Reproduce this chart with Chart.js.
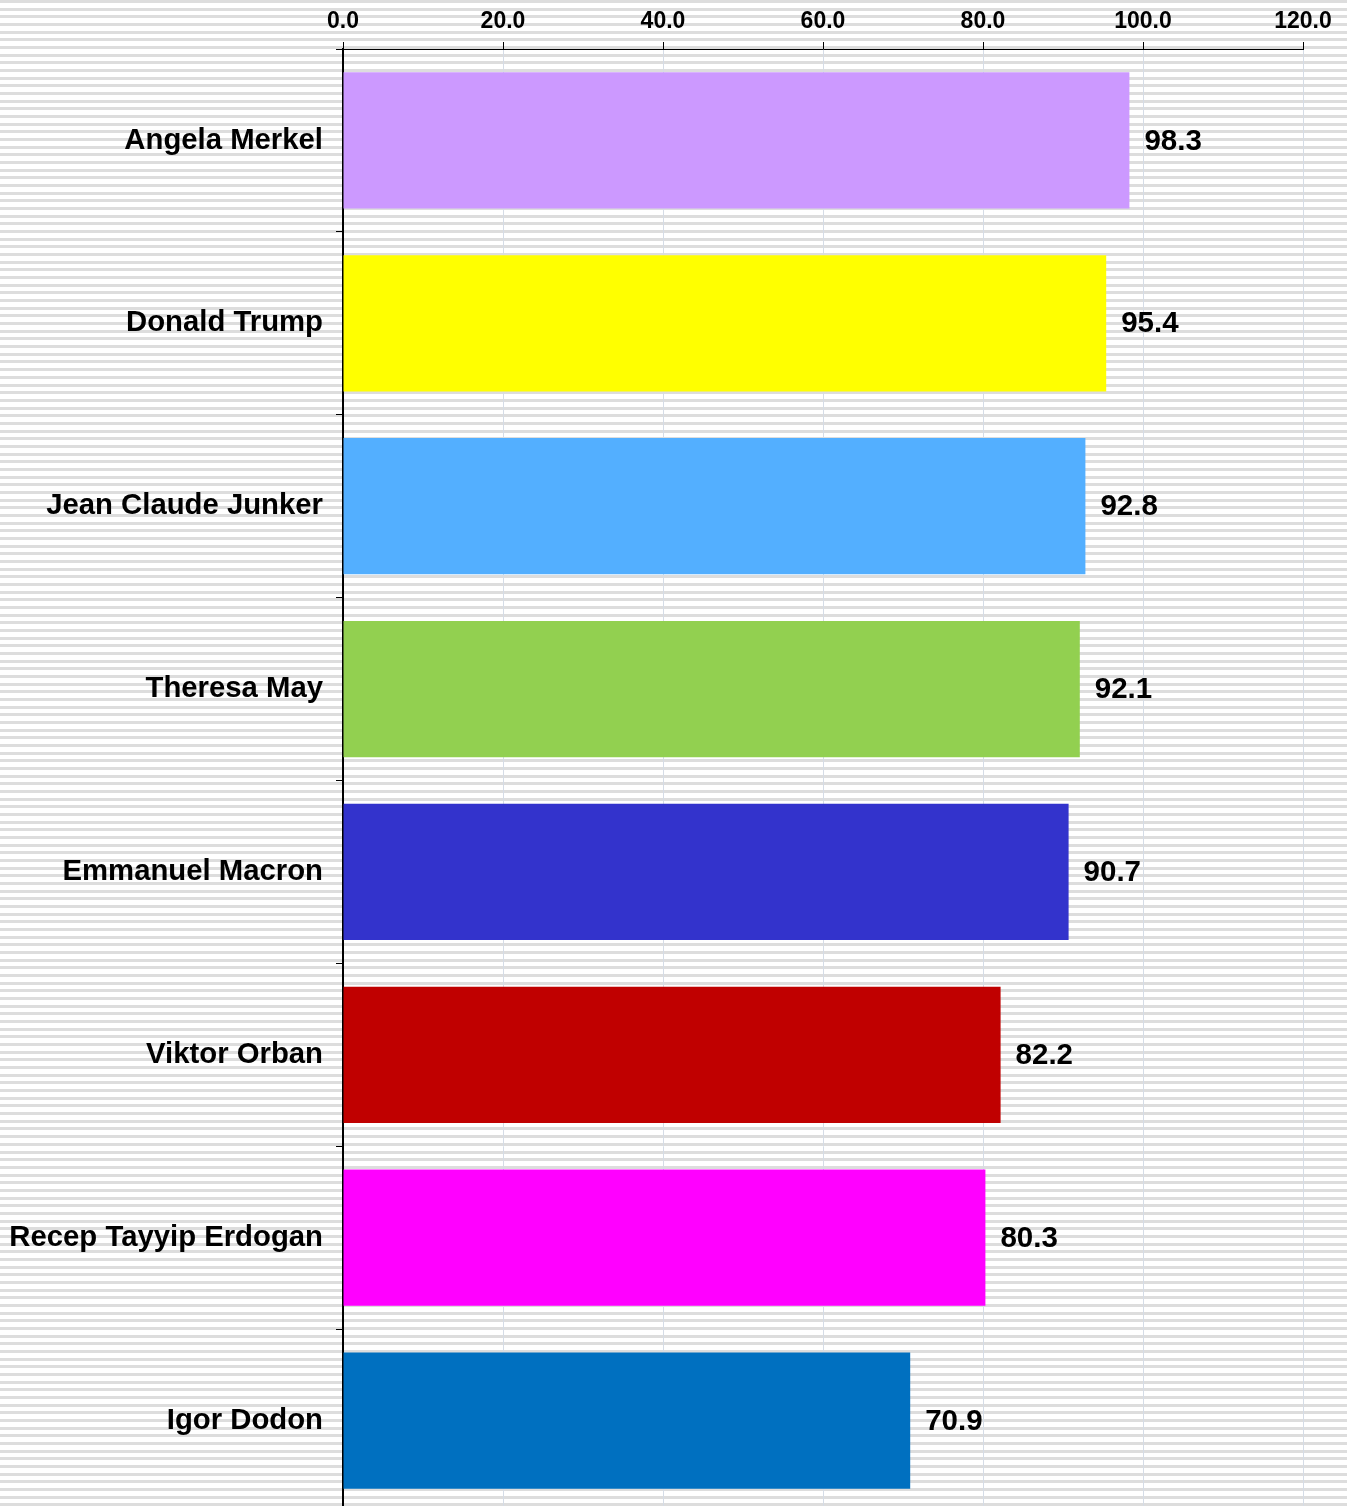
<!DOCTYPE html>
<html>
<head>
<meta charset="utf-8">
<script src="https://cdn.jsdelivr.net/npm/chart.js@4/dist/chart.umd.min.js"></script>
<style>
  html, body { margin: 0; padding: 0; }
  body {
    width: 1347px; height: 1506px; overflow: hidden;
    background: repeating-linear-gradient(to bottom, #dddddd 0px, #dddddd 3px, #ffffff 3px, #ffffff 7.67px);
  }
  /* plot runs slightly past the bottom edge, like the original */
  #wrap { position: relative; width: 1347px; height: 1512px; }
</style>
</head>
<body>
<div id="wrap"><canvas id="myChart"></canvas></div>
<script>
const leaders = ['Angela Merkel', 'Donald Trump', 'Jean Claude Junker', 'Theresa May',
  'Emmanuel Macron', 'Viktor Orban', 'Recep Tayyip Erdogan', 'Igor Dodon'];
const scores = [98.3, 95.4, 92.8, 92.1, 90.7, 82.2, 80.3, 70.9];
const barColors = ['#cc99ff', '#ffff00', '#53afff', '#92d050', '#3333cc', '#c00000', '#ff00ff', '#0070c0'];
const xTicks = [0, 20, 40, 60, 80, 100, 120];

const FONT = '"Liberation Sans", Arial, sans-serif';

// values to the right of each bar
const valueLabels = {
  id: 'valueLabels',
  afterDatasetsDraw(chart) {
    const ctx = chart.ctx;
    ctx.save();
    ctx.font = 'bold 29.5px ' + FONT;
    ctx.fillStyle = '#000';
    ctx.textAlign = 'left';
    ctx.textBaseline = 'middle';
    chart.getDatasetMeta(0).data.forEach((bar, i) => {
      ctx.fillText(scores[i].toFixed(1), bar.x + 15, bar.y + 1);
    });
    ctx.restore();
  }
};

const ctx = document.getElementById('myChart');

new Chart(ctx, {
  type: 'bar',
  data: {
    labels: leaders,
    datasets: [{
      data: scores,
      backgroundColor: barColors,
      borderWidth: 0,
      barPercentage: 0.745,
      categoryPercentage: 1.0
    }]
  },
  options: {
    indexAxis: 'y',
    responsive: true,
    maintainAspectRatio: false,
    animation: false,
    layout: { padding: { top: 0, right: 44, bottom: 0, left: 0 } },
    plugins: {
      legend: { display: false },
      tooltip: { enabled: false }
    },
    scales: {
      x: {
        position: 'top',
        min: 0,
        max: 120,
        afterBuildTicks: (scale) => { scale.ticks = xTicks.map(v => ({ value: v })); },
        afterFit: (scale) => { scale.height = 49; },
        ticks: {
          color: '#000',
          font: { family: FONT, size: 23, weight: 'bold' },
          padding: 7,
          maxRotation: 0,
          callback: (v) => Number(v).toFixed(1)
        },
        grid: {
          color: '#d5dce6',
          tickColor: '#000',
          tickLength: 7,
          lineWidth: 1
        },
        border: { display: true, color: '#000', width: 1 }
      },
      y: {
        afterFit: (scale) => {
          scale.width = 343;
          scale.paddingTop = 0;
          scale.paddingBottom = 0;
        },
        ticks: {
          color: '#000',
          font: { family: FONT, size: 29.3, weight: 'bold' },
          padding: 13
        },
        grid: {
          drawOnChartArea: false,
          offset: true,
          tickColor: '#000',
          tickLength: 7
        },
        border: { display: true, color: '#000', width: 2 }
      }
    }
  },
  plugins: [valueLabels]
});
</script>
</body>
</html>
